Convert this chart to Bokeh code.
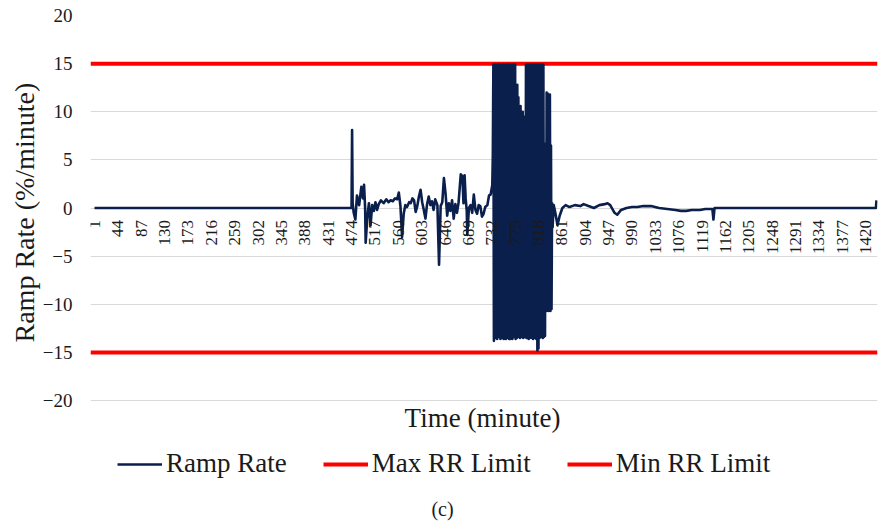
import math
from bokeh.plotting import figure
from bokeh.models import FixedTicker, Legend, LegendItem, Title, Label, ColumnDataSource, Range1d
from bokeh.core.properties import value
from bokeh.embed import file_html
from bokeh.resources import INLINE

# ---------------- data ----------------
quiet_minutes = [1, 474, 475, 476, 478, 481, 484, 488, 492, 495, 497, 499, 500, 503, 506, 509, 512, 515,
                 518, 521, 524, 528, 533, 538, 542, 546, 550, 554, 558, 561, 564, 567, 570, 573, 576,
                 580, 583, 586, 589, 592, 595, 598, 601, 604, 607, 610, 613, 616, 619, 622, 625, 628,
                 632, 635, 638, 641, 644, 647, 650, 653, 656, 659, 662, 665, 668, 671, 675, 678, 680,
                 682, 684, 686, 687, 690, 693, 696, 699, 702, 705, 708, 711, 714, 717, 720, 724, 727,
                 730, 733, 734]
quiet_values = [0.0, 0.0, 8.1, 0.5, -0.5, -1.2, 1.3, 0.3, 2.2, 1.0, 2.4, 0.0, -3.6, -1.0, 0.5, -1.8, 0.3, -0.3,
                0.6, -0.2, 0.4, 0.8, 0.5, 0.9, 0.6, 0.8, 0.7, 1.0, 0.9, 1.6, 0.2, -3.0, -0.6, 0.3, 0.1,
                0.6, 0.5, 1.0, 0.8, -0.4, 0.2, 1.2, 1.9, 0.6, -0.2, -1.1, 0.4, 1.2, 0.3, 0.7, -0.2, 0.9,
                0.3, -5.9, 0.2, 0.6, 3.1, 1.5, -0.8, 0.5, -0.3, 0.8, -1.1, 0.4, -0.5, 0.6, 3.5, 3.3, 0.5,
                3.4, 1.0, -0.3, -2.8, 0.0, 0.3, -0.5, 1.4, -0.2, -0.6, 0.3, 0.2, -0.9, -0.6, 0.1, 0.3, 1.3,
                1.4, 2.4, 5.5]

# minute-by-minute values of the volatile period, minutes 735 .. 844
volatile_values = [14.9, -13.8, 14.9, -12.5, 14.9, -13.5, 13.0, -13.6, 14.9, -6.0,
                   14.9, -13.4, 14.9, -13.6, 10.2, -13.5, 14.9, -9.0, 14.9, -13.6,
                   14.9, -13.4, 12.0, -13.6, 14.9, -13.5, 14.9, -5.0, 14.9, -13.6,
                   14.9, -13.6, 8.0, -13.5, 14.9, -13.6, 14.9, -13.4, 14.9, -10.0,
                   14.9, -13.6, 12.5, -13.5, 12.8, -13.4, 11.5, -4.0, 10.5, -13.5,
                   10.6, -13.3, 8.5, -13.4, 10.0, -13.5, 7.8, -12.8, 9.5, -13.4,
                   14.9, -13.5, 14.9, -12.0, 14.9, -13.6, 14.9, -13.5, 14.9, -7.5,
                   14.9, -13.5, 14.9, -13.6, 14.9, -13.4, 14.9, -13.5, 14.9, -13.6,
                   14.9, -14.8, 14.9, -14.6, 14.9, -13.5, 14.9, -13.4, 14.9, -11.0,
                   14.9, -13.5, 14.9, -13.4, 6.7, -13.3, 6.5, -10.7, 12.0, -10.5,
                   11.9, -10.7, 6.0, -10.6, 11.8, -10.7, 6.5, -10.5, 0.5, -2.0]
volatile_start = 735

tail_minutes = [846, 849, 853, 857, 862, 868, 875, 885, 895, 901, 910, 920, 930, 940, 945, 950, 958,
                963, 970, 980, 990, 1000, 1011, 1025, 1040, 1055, 1070, 1080, 1090, 1100, 1115,
                1125, 1138, 1140, 1142, 1439, 1440]
tail_values = [0.3, -0.5, -1.8, -0.8, 0.0, 0.3, 0.1, 0.3, 0.2, 0.4, 0.2, 0.0, 0.3, 0.4, 0.5, 0.3, -0.5,
               -0.7, -0.2, 0.0, 0.1, 0.1, 0.2, 0.2, 0.0, -0.1, -0.2, -0.3, -0.3, -0.2, -0.2,
               -0.1, -0.1, -1.2, 0.0, 0.0, 0.8]

max_limit = 15
min_limit = -15
y_ticks = [-20, -15, -10, -5, 0, 5, 10, 15, 20]
x_tick_labels = ["1", "44", "87", "130", "173", "216", "259", "302", "345", "388", "431", "474",
                 "517", "560", "603", "646", "689", "732", "775", "818", "861", "904", "947", "990",
                 "1033", "1076", "1119", "1162", "1205", "1248", "1291", "1334", "1377", "1420"]

# ---------------- build ----------------
minutes = quiet_minutes + [volatile_start + i for i in range(len(volatile_values))] + tail_minutes
ramp = quiet_values + volatile_values + tail_values

W, H = 880, 525
TOP, LEFT, RIGHT = 15, 90, 3
x_lo, x_hi = -6.4, 1441.9
y_hi = 20
px_per_unit = 385 / 40.0
y_lo = y_hi - (H - TOP) / px_per_unit   # frame runs to the bottom; legend/captions live below -20

FONT = "Liberation Serif"
NAVY = "#0b1f4d"
RED = "#ff0000"
TXT = "#1a1a1a"

p = figure(output_backend="svg", toolbar_location=None, width=W, height=H,
           x_range=Range1d(x_lo, x_hi), y_range=Range1d(y_lo, y_hi), x_axis_location=None,
           min_border_left=LEFT, min_border_right=RIGHT, min_border_top=TOP, min_border_bottom=0)
p.outline_line_color = None
p.background_fill_color = "white"
p.border_fill_color = "white"

p.xgrid.grid_line_color = None
p.ygrid.ticker = FixedTicker(ticks=y_ticks)
p.ygrid.grid_line_color = "#d9d9d9"
p.ygrid.grid_line_width = 1

p.yaxis.ticker = FixedTicker(ticks=y_ticks)
p.yaxis.axis_line_color = None
p.yaxis.major_tick_line_color = None
p.yaxis.minor_tick_line_color = None
p.yaxis.major_tick_out = 0
p.yaxis.major_tick_in = 0
p.yaxis.minor_tick_out = 0
p.yaxis.major_label_standoff = 18
p.yaxis.major_label_text_font = FONT
p.yaxis.major_label_text_font_size = "19px"
p.yaxis.major_label_text_color = TXT

ytitle = Title(text="Ramp Rate (%/minute)", align="left", offset=183, standoff=0,
               text_font=FONT, text_font_size="28px", text_font_style="normal", text_color=TXT)
p.add_layout(ytitle, "left")

r_max = p.line(x=[x_lo, x_hi], y=[max_limit, max_limit], line_color=RED, line_width=4)
r_min = p.line(x=[x_lo, x_hi], y=[min_limit, min_limit], line_color=RED, line_width=4)

src = ColumnDataSource(dict(m=minutes, v=ramp))
r_ramp = p.line("m", "v", source=src, line_color=NAVY, line_width=2.6, line_join="round")

tick_src = ColumnDataSource(dict(x=[int(t) for t in x_tick_labels], y=[0] * len(x_tick_labels),
                                 t=x_tick_labels))
p.text("x", "y", text="t", source=tick_src, angle=math.pi / 2, text_align="right",
       text_baseline="middle", y_offset=12, text_font=value(FONT), text_font_size="17px",
       text_color=TXT)

xtitle = Label(x=392, y=H - 417, x_units="screen", y_units="screen", text="Time (minute)",
               text_align="center", text_baseline="middle", text_font=FONT,
               text_font_size="27px", text_color=TXT)
p.add_layout(xtitle)

legend = Legend(items=[LegendItem(label="Ramp Rate", renderers=[r_ramp]),
                       LegendItem(label="Max RR Limit", renderers=[r_max]),
                       LegendItem(label="Min RR Limit", renderers=[r_min])],
                orientation="horizontal", location=(27, H - 479),
                label_text_font=FONT, label_text_font_size="27px", label_text_color=TXT,
                glyph_width=45, label_standoff=4, spacing=36, padding=0, margin=0,
                border_line_color=None, background_fill_alpha=0)
p.add_layout(legend, "center")

cap = Label(x=352, y=H - 508, x_units="screen", y_units="screen", text="(c)",
            text_align="center", text_baseline="middle", text_font=FONT,
            text_font_size="20px", text_color=TXT)
p.add_layout(cap)

open("out.html", "w").write(file_html(p, INLINE))
